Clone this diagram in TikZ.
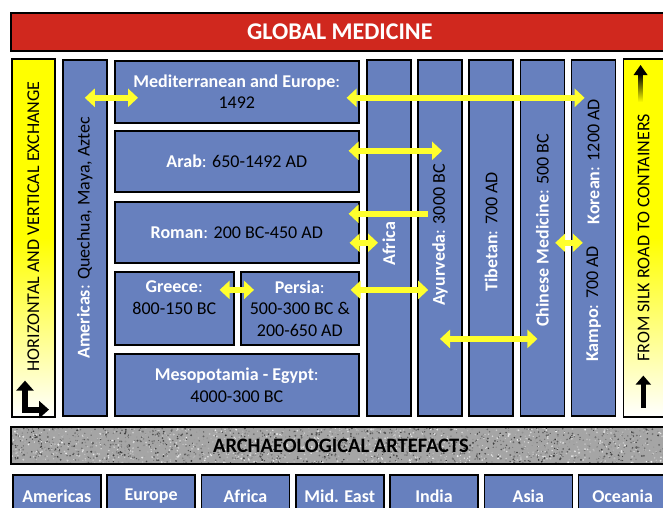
\documentclass[tikz,border=0pt]{standalone}
\usepackage{fontspec}
\setmainfont{Carlito}
\usepackage{xcolor}
\usepackage{tikz}
\usetikzlibrary{arrows.meta,shapes,calc,positioning}

\definecolor{boxblue}{RGB}{103,128,190}
\definecolor{globred}{RGB}{208,40,30}
\definecolor{xyellow}{RGB}{255,255,45}
\definecolor{granite}{RGB}{165,165,165}

\newcommand{\nm}[1]{\textcolor{white}{\bfseries #1}}
\newcommand{\nmc}[1]{\textcolor{white}{{\bfseries #1}:}}

\begin{document}
\begin{tikzpicture}[x=1pt,y=-1pt,
  txt/.style={font=\fontsize{18}{21.5}\selectfont},
  bluebox/.style={draw,line width=1.6pt,fill=boxblue,txt,align=center,inner sep=0pt},
  colbox/.style={bluebox,minimum width=44pt,minimum height=356pt},
  sidebox/.style={draw,line width=1.6pt,top color=yellow,bottom color=white,middle color=yellow,minimum width=43pt,minimum height=358pt},
  regbox/.style={bluebox,minimum width=88pt,minimum height=42pt,font=\fontsize{18}{21.5}\selectfont\bfseries,text=white},
  vtxt/.style={txt,rotate=90,inner sep=0pt},
  xarr/.style={draw=xyellow,line width=6.5pt,>={Triangle[width=18pt,length=10pt]}},
  blkarr/.style={line width=6pt,>={Triangle[width=17pt,length=10pt]}}]

\useasboundingbox (0,0) rectangle (663,507);

\node[draw,line width=1.6pt,fill=globred,minimum width=658pt,minimum height=38pt,anchor=north west,font=\fontsize{24}{28}\selectfont\bfseries,text=white](glob) at (10,12) {GLOBAL MEDICINE};

\node[sidebox,anchor=north west](lbox) at (11,58) {};
\node[colbox,right=6.4pt of lbox](amer) {};
\node[bluebox,anchor=north west,minimum width=244pt,minimum height=62pt](med) at (114,60) {\nmc{Mediterranean and Europe}\\1492};
\node[bluebox,below=6.4pt of med,minimum width=244pt,minimum height=61pt](arab) {\nmc{Arab} 650-1492 AD};
\node[bluebox,below=8.4pt of arab,minimum width=244pt,minimum height=61pt](roman) {\nmc{Roman} 200 BC-450 AD};
\node[bluebox,anchor=north west,minimum width=119pt,minimum height=73pt](greece) at ([yshift=-7.5pt]roman.south west) {\nmc{Greece}\\800-150 BC\\~};
\node[bluebox,right=5.4pt of greece,minimum width=118pt,minimum height=73pt](persia) {\nmc{Persia}\\500-300 BC \&\\200-650 AD};
\node[bluebox,anchor=north west,minimum width=244pt,minimum height=62pt](meso) at ([yshift=-7.5pt]greece.south west) {\nmc{Mesopotamia - Egypt}\\4000-300 BC};

\node[colbox,anchor=north west](africa) at (366,59) {};
\node[colbox,right=5.6pt of africa](ayur) {};
\node[colbox,right=5.6pt of ayur](tibet) {};
\node[colbox,right=5.6pt of tibet](chinese) {};
\node[colbox,right=5.6pt of chinese](kampo) {};
\node[sidebox,right=6.4pt of kampo,minimum width=45pt](rbox) {};

\node[vtxt](lboxtxt) at ([yshift=11.5pt]lbox.center) {HORIZONTAL AND VERTICAL EXCHANGE};
\node[vtxt](amertxt) at (amer.center) {\nmc{Americas} Quechua, Maya, Aztec};
\node[vtxt](africatxt) at ([yshift=-6pt]africa.center) {\nm{Africa}};
\node[vtxt](ayurtxt) at ([yshift=3pt]ayur.center) {\nmc{Ayurveda} 3000 BC};
\node[vtxt](tibettxt) at ([yshift=6pt]tibet.center) {\nmc{Tibetan} 700 AD};
\node[vtxt](chinesetxt) at ([yshift=7.5pt]chinese.center) {\nmc{Chinese Medicine} 500 BC};
\node[vtxt](kampotxt) at ([yshift=-66pt]kampo.center) {\nmc{Kampo} 700 AD};
\node[vtxt](koreantxt) at ([yshift=76pt]kampo.center) {\nmc{Korean} 1200 AD};
\node[vtxt](rboxtxt) at ([xshift=-2.5pt]rbox.center) {FROM SILK ROAD TO CONTAINERS};

\draw[blkarr,<->] ($(lbox.south west)+(14,-37)$) -- ($(lbox.south west)+(14,-8)$) -- ($(lbox.south west)+(38,-8)$);
\shade[top color=black,bottom color=yellow] ($(rbox.north west)+(15.5,16)$) rectangle ($(rbox.north west)+(20,44)$);
\fill ($(rbox.north west)+(17.75,7)$) -- ++(7,10) -- ++(-14,0) -- cycle;
\draw[blkarr,->,>={Triangle[width=15pt,length=9pt]},line width=5pt] ($(rbox.south west)+(20.5,-10)$) -- ($(rbox.south west)+(20.5,-42)$);

\coordinate (lvA) at ($(med.center)+(0,6)$);
\coordinate (lvB) at ($(arab.center)+(0,-10.5)$);
\coordinate (lvC) at ($(roman.center)+(0,-18.5)$);
\coordinate (lvD) at ($(roman.center)+(0,10.5)$);
\coordinate (lvE) at ($(persia.center)+(0,-18.5)$);
\coordinate (lvF) at ($(persia.center)+(0,30.5)$);

\draw[xarr,<->] (amer.center |- lvA) -- ($(med.west |- lvA)+(24,0)$);
\draw[xarr,<->] ($(med.east |- lvA)+(-13,0)$) -- ($(kampo.center |- lvA)+(-9,0)$);
\draw[xarr,<->] ($(arab.east |- lvB)+(-11,0)$) -- ($(ayur.center |- lvB)+(2,0)$);
\draw[xarr,<-] ($(roman.east |- lvC)+(-11,0)$) -- ($(ayur.west |- lvC)+(11,0)$);
\draw[xarr,<->] ($(roman.east |- lvD)+(-10,0)$) -- ($(africa.west |- lvD)+(12,0)$);
\draw[xarr,<->] ($(greece.east |- lvE)+(-15,0)$) -- ($(persia.west |- lvE)+(14,0)$);
\draw[xarr,<->] ($(persia.east |- lvE)+(-9,0)$) -- ($(ayur.west |- lvE)+(11,0)$);
\draw[xarr,<->] (ayur.center |- lvF) -- ($(chinese.center |- lvF)+(-5,0)$);
\draw[xarr,<->] ($(chinese.east |- lvD)+(-10,0)$) -- ($(kampo.west |- lvD)+(12,0)$);

\node[draw,line width=1.6pt,fill=granite,outer sep=0pt,minimum width=660pt,minimum height=37pt,anchor=north west](arch) at (11,427) {};
\begin{scope}
\clip (arch.south west) rectangle (arch.north east);
\pgfmathsetseed{42}
\foreach \i in {1,...,2400}{
  \pgfmathsetmacro{\gx}{11+660*rnd}
  \pgfmathsetmacro{\gy}{427+37*rnd}
  \pgfmathsetmacro{\gs}{5+75*rnd}
  \pgfmathsetmacro{\gr}{0.5+0.6*rnd}
  \fill[black!\gs] (\gx,\gy) circle (\gr pt);
}
\end{scope}
\draw[line width=1.6pt] (arch.south west) rectangle (arch.north east);
\node[font=\fontsize{20.5}{24}\selectfont\bfseries](archtxt) at (arch.center) {ARCHAEOLOGICAL ARTEFACTS};

\node[regbox,anchor=north west](amreg) at (12,474) {Americas};
\node[regbox,right=4.7pt of amreg](eureg) {Europe};
\node[regbox,right=4.7pt of eureg](afreg) {Africa};
\node[regbox,right=4.7pt of afreg](mereg) {Mid. East};
\node[regbox,right=4.7pt of mereg](inreg) {India};
\node[regbox,right=4.7pt of inreg](asreg) {Asia};
\node[regbox,right=4.7pt of asreg](ocreg) {Oceania};

\end{tikzpicture}
\end{document}
